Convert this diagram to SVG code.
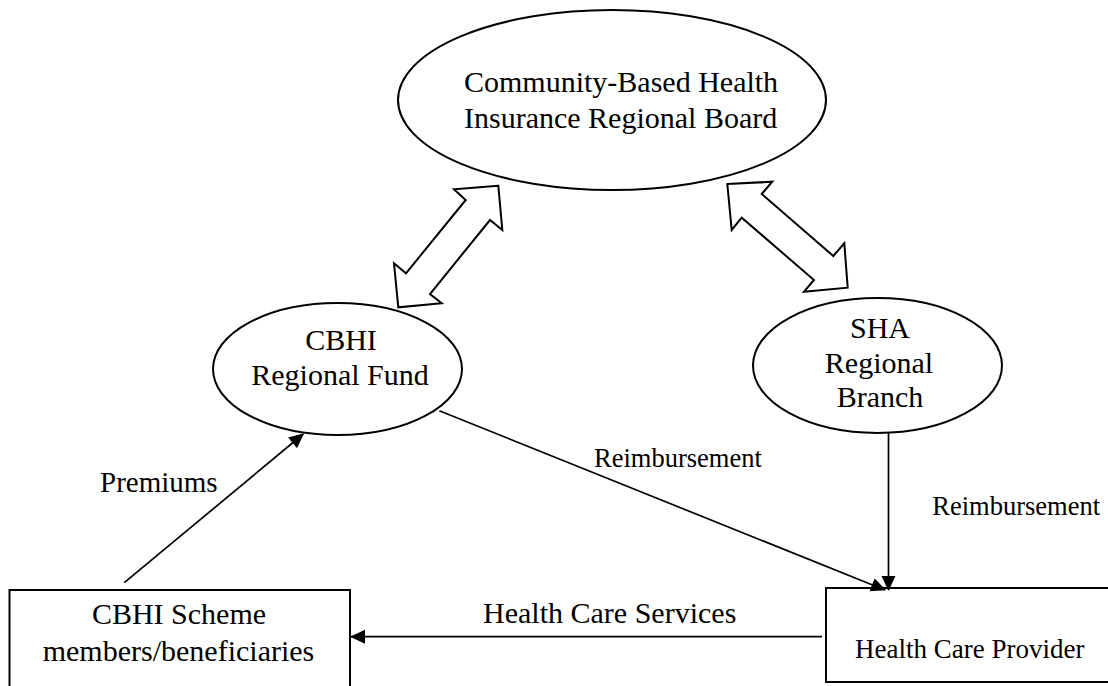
<svg xmlns="http://www.w3.org/2000/svg" width="1108" height="686" viewBox="0 0 1108 686">
<style>
  .shape{fill:#fff;stroke:#000;stroke-width:2}
  .t{font-family:"Liberation Serif","Times New Roman",serif;fill:#000;font-size:30px}
  .lbl{font-family:"Liberation Serif","Times New Roman",serif;fill:#000}
  .ln{fill:none;stroke:#000;stroke-width:1.7}
  .dbl{fill:#fff;stroke:#000;stroke-width:2;stroke-linejoin:miter}
</style>
<defs>
  <marker id="ah" markerUnits="userSpaceOnUse" markerWidth="15" markerHeight="15" viewBox="0 0 15 15" refX="14" refY="7" orient="auto">
    <path d="M0,0 L15,7 L0,14 z" fill="#000"/>
  </marker>
</defs>
<rect width="1108" height="686" fill="#fff"/>

<g id="board">
  <ellipse class="shape" cx="612" cy="100" rx="214" ry="90"/>
  <text class="t" x="464" y="92">Community-Based Health</text>
  <text class="t" x="464" y="128">Insurance Regional Board</text>
</g>

<g id="cbhi-fund">
  <ellipse class="shape" cx="337.5" cy="369" rx="124.5" ry="66"/>
  <text class="t" x="341" y="350" text-anchor="middle">CBHI</text>
  <text class="t" x="340" y="385" text-anchor="middle">Regional Fund</text>
</g>

<g id="sha-branch">
  <ellipse class="shape" cx="877.5" cy="365.5" rx="124.5" ry="67.5"/>
  <text class="t" x="880" y="338" text-anchor="middle">SHA</text>
  <text class="t" x="879" y="373" text-anchor="middle">Regional</text>
  <text class="t" x="880" y="407" text-anchor="middle">Branch</text>
</g>

<g id="members">
  <rect class="shape" x="9.5" y="590" width="340.5" height="110"/>
  <text class="t" x="179" y="624" text-anchor="middle">CBHI Scheme</text>
  <text class="t" x="178.5" y="660.7" text-anchor="middle">members/beneficiaries</text>
</g>

<g id="provider">
  <rect class="shape" x="826" y="588" width="290" height="94"/>
  <text class="lbl" x="855" y="658.3" font-size="27">Health Care Provider</text>
</g>

<g id="connectors">
  <polygon class="dbl" points="498.3,185.7 454,189.3 465.7,200 406,273.3 394,263.3 398.3,307.3 441.7,303.3 430,294 490,220 502.3,230"/>
  <polygon class="dbl" points="727.3,184 772.3,181.7 761.7,194 833.3,256 844.3,243.3 847.7,287.7 804,291.7 814,280 741.7,217.7 731.7,230"/>
  <line class="ln" x1="124.3" y1="582.7" x2="303.3" y2="434" marker-end="url(#ah)"/>
  <line class="ln" x1="439.3" y1="410.7" x2="885" y2="590" marker-end="url(#ah)"/>
  <line class="ln" x1="888.5" y1="432.7" x2="888.5" y2="590" stroke-width="2" marker-end="url(#ah)"/>
  <line class="ln" x1="822" y1="636.7" x2="351" y2="636.7" stroke-width="2" marker-end="url(#ah)"/>
  <text class="lbl" x="100" y="491.7" font-size="29">Premiums</text>
  <text class="lbl" x="594" y="467" font-size="26.5">Reimbursement</text>
  <text class="lbl" x="932.3" y="515" font-size="26.5">Reimbursement</text>
  <text class="t" x="609.7" y="623.3" text-anchor="middle">Health Care Services</text>
</g>
</svg>
